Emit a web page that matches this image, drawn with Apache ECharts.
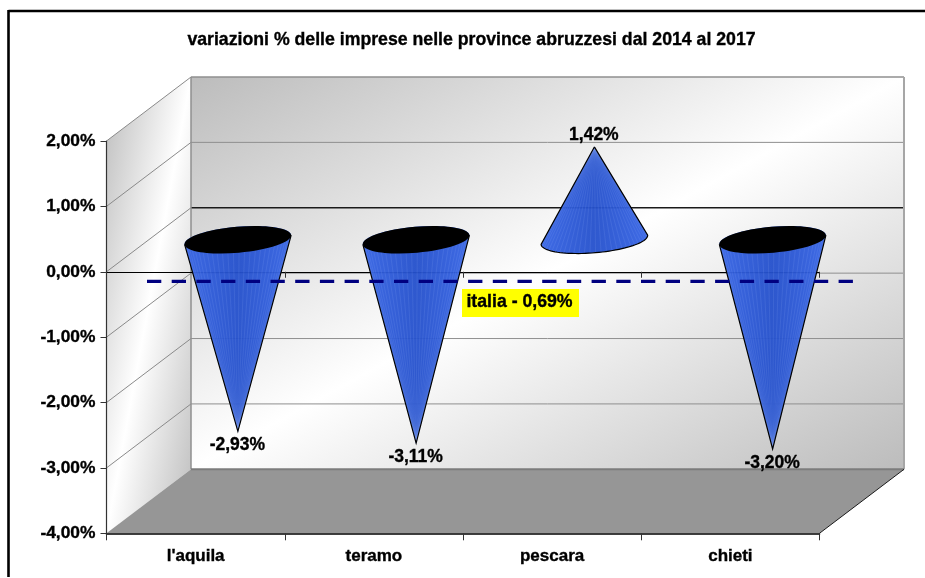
<!DOCTYPE html>
<html>
<head>
<meta charset="utf-8">
<title>variazioni % delle imprese</title>
<script src="https://cdn.jsdelivr.net/npm/echarts@6/dist/echarts.min.js"></script>
<style>
  html, body { margin: 0; padding: 0; background: #fff; }
  #chart { width: 925px; height: 578px; }
</style>
</head>
<body>
<div id="chart"></div>
<script>
var chartTitle = "variazioni % delle imprese nelle province abruzzesi dal 2014 al 2017";
var provinces = ["l'aquila", 'teramo', 'pescara', 'chieti'];
var changes = [-2.93, -3.11, 1.42, -3.20];
var changeLabels = ['-2,93%', '-3,11%', '1,42%', '-3,20%'];
var tickValues = [2, 1, 0, -1, -2, -3, -4];
var italyValue = -0.69;
var italyLabel = 'italia - 0,69%';

var FONT = '"Liberation Sans", Arial, sans-serif';
var DEPTH_X = 84.5, DEPTH_Y = -64;    // oblique shift from the front plane to the back wall
var CONE_RX = 53.5, CONE_RY = 13, CONE_TILT = 5 * Math.PI / 180;
var TEXT_EDGE = 0.35;                 // thin stroke, the reference text is a little heavier than plain bold

var chart = echarts.init(document.getElementById('chart'));

function pct(v) { return v.toFixed(2).replace('.', ',') + '%'; }

// gradient whose mid stop runs through the two off-diagonal corners of a box
function cornerGradient(x, y, w, h, stops) {
    var k = 2 * w * h / (w * w + h * h);
    return new echarts.graphic.LinearGradient(x, y, x + h * k, y + w * k, stops, true);
}

function poly(points, style) {
    return { type: 'polygon', shape: { points: points }, style: style };
}
function seg(x1, y1, x2, y2, stroke, width) {
    return { type: 'line', shape: { x1: x1, y1: y1, x2: x2, y2: y2 }, style: { stroke: stroke, lineWidth: width, fill: null } };
}

function renderWalls(params, api) {
    var g = params.coordSys;
    var l = g.x, r = g.x + g.width, t = g.y, b = g.y + g.height;
    var wallStops = [{ offset: 0, color: '#bcbcbc' }, { offset: 0.5, color: '#ffffff' }, { offset: 1, color: '#bcbcbc' }];
    var kids = [];
    kids.push(poly([[l + DEPTH_X, t + DEPTH_Y], [r + DEPTH_X, t + DEPTH_Y], [r + DEPTH_X, b + DEPTH_Y], [l + DEPTH_X, b + DEPTH_Y]],
        { fill: cornerGradient(l + DEPTH_X, t + DEPTH_Y, g.width, g.height, wallStops) }));
    kids.push(poly([[l, t], [l + DEPTH_X, t + DEPTH_Y], [l + DEPTH_X, b + DEPTH_Y], [l, b]],
        { fill: cornerGradient(l, t + DEPTH_Y, DEPTH_X, g.height - DEPTH_Y, wallStops) }));
    tickValues.forEach(function (v) {
        var y = api.coord([0, v])[1];
        if (v !== -4) kids.push(seg(l, y, l + DEPTH_X, y + DEPTH_Y, '#8a8a8a', 1));
        if (v !== 2 && v !== -4) {
            kids.push(seg(l + DEPTH_X, y + DEPTH_Y, r + DEPTH_X, y + DEPTH_Y, v === 0 ? '#1a1a1a' : '#8f8f8f', v === 0 ? 1.3 : 1));
        }
    });
    kids.push(poly([[l, b], [r, b], [r + DEPTH_X, b + DEPTH_Y], [l + DEPTH_X, b + DEPTH_Y]], { fill: '#969696' }));
    kids.push(seg(l + DEPTH_X, t + DEPTH_Y, r + DEPTH_X, t + DEPTH_Y, '#8f8f8f', 1.5));
    kids.push(seg(l + DEPTH_X, t + DEPTH_Y, l + DEPTH_X, b + DEPTH_Y, '#8f8f8f', 1.5));
    kids.push(seg(r + DEPTH_X, t + DEPTH_Y, r + DEPTH_X, b + DEPTH_Y, '#a6a6a6', 2));
    kids.push(seg(l + DEPTH_X, b + DEPTH_Y, r + DEPTH_X, b + DEPTH_Y, '#7c7c7c', 2));
    kids.push(seg(r, b, r + DEPTH_X, b + DEPTH_Y, '#1a1a1a', 1));
    return { type: 'group', children: kids, silent: true };
}

function ellipsePoint(cx, cy, t) {
    var ex = CONE_RX * Math.cos(t), ey = CONE_RY * Math.sin(t);
    return [cx + ex * Math.cos(CONE_TILT) + ey * Math.sin(CONE_TILT),
            cy - ex * Math.sin(CONE_TILT) + ey * Math.cos(CONE_TILT)];
}

function renderCone(params, api) {
    var idx = api.value(0), val = api.value(1);
    var base = api.coord([idx, 0]), tip = api.coord([idx, val]);
    var cx = base[0] + DEPTH_X / 2, cy = base[1] + DEPTH_Y / 2;
    var ax = tip[0] + DEPTH_X / 2, ay = tip[1] + DEPTH_Y / 2;
    var up = val > 0;
    var right = ellipsePoint(cx, cy, 0), left = ellipsePoint(cx, cy, Math.PI);
    var pts = [[ax, ay]], kids = [], i;

    // near edge of the base for an upright cone, far edge (hidden by the cap) when inverted
    for (i = 0; i <= 48; i++) {
        pts.push(ellipsePoint(cx, cy, (up ? 1 : -1) * Math.PI * i / 48));
    }
    kids.push(poly(pts, {
        fill: new echarts.graphic.LinearGradient(0, 0, 1, 0, [
            { offset: 0, color: '#3563e4' }, { offset: 0.5, color: '#2450cc' }, { offset: 1, color: '#3563e4' }
        ]),
        opacity: 0.95
    }));
    for (i = 1; i < 30; i++) {
        var p = ellipsePoint(cx, cy, Math.PI * i / 30);
        kids.push(seg(ax, ay, p[0], p[1], 'rgba(170,195,255,0.2)', 0.6));
    }
    kids.push({ type: 'polyline', shape: { points: up ? pts.concat([[ax, ay]]) : [left, [ax, ay], right] },
        style: { stroke: '#000', lineWidth: 1.2, fill: null } });
    if (!up) {
        kids.push({ type: 'ellipse', rotation: CONE_TILT, originX: cx, originY: cy,
            shape: { cx: cx, cy: cy, rx: CONE_RX, ry: CONE_RY }, style: { fill: '#000' } });
    }
    kids.push({ type: 'text', style: {
        x: ax - 0.5, y: ay + (up ? -12 : 14), text: changeLabels[idx], align: 'center', verticalAlign: 'middle',
        fill: '#000', stroke: '#000', lineWidth: TEXT_EDGE, font: 'bold 17.5px ' + FONT
    } });
    return { type: 'group', children: kids, silent: true };
}

function renderItaly(params, api) {
    var g = params.coordSys;
    var y = api.coord([0, api.value(0)])[1] - 35.5;
    var x0 = g.x + 40.5, x1 = g.x + g.width + 35.5;
    var line = seg(x0, y, x1, y, '#000080', 3.3);
    line.style.lineDash = [14.3, 10.4];
    return { type: 'group', silent: true, children: [
        line,
        { type: 'rect', shape: { x: 462, y: y + 7.5, width: 117, height: 28 }, style: { fill: '#ffff00' } },
        { type: 'text', style: { x: 519.5, y: y + 21, text: italyLabel, align: 'center', verticalAlign: 'middle',
            fill: '#000', stroke: '#000', lineWidth: TEXT_EDGE, font: 'bold 17.7px ' + FONT } }
    ] };
}

chart.setOption({
    animation: false,
    backgroundColor: '#fff',
    title: {
        text: chartTitle, left: 466.5, top: 26, textAlign: 'center',
        textStyle: { fontFamily: FONT, fontWeight: 'bold', fontSize: 17.7, color: '#000',
            textBorderColor: '#000', textBorderWidth: TEXT_EDGE }
    },
    graphic: [
        { type: 'line', shape: { x1: 8.5, y1: 11, x2: 925, y2: 11 }, style: { stroke: '#000', lineWidth: 2.6 } },
        { type: 'line', shape: { x1: 8.5, y1: 10, x2: 8.5, y2: 577 }, style: { stroke: '#000', lineWidth: 2.6 } }
    ],
    grid: { left: 106.5, right: 105.5, top: 141, bottom: 44.7 },
    xAxis: [
        {
            type: 'category', data: provinces, position: 'bottom', z: 3,
            axisLine: { onZero: false, lineStyle: { color: '#000', width: 1.6 } },
            axisTick: { show: true, length: 7, lineStyle: { color: '#333' } },
            axisLabel: { color: '#000', fontFamily: FONT, fontWeight: 'bold', fontSize: 17, margin: 15,
                textBorderColor: '#000', textBorderWidth: TEXT_EDGE }
        },
        {
            type: 'category', data: provinces, position: 'top', z: 3,
            axisLine: { onZero: true, lineStyle: { color: '#000', width: 1.2 } },
            axisTick: { show: true, inside: true, length: 6, lineStyle: { color: '#333' } },
            axisLabel: { show: false }
        }
    ],
    yAxis: {
        type: 'value', min: -4, max: 2, interval: 1, z: 3,
        axisLine: { show: true, lineStyle: { color: '#333', width: 1.2 } },
        axisTick: { show: true, length: 6, lineStyle: { color: '#333' } },
        axisLabel: { color: '#000', fontFamily: FONT, fontWeight: 'bold', fontSize: 17.4, margin: 11, padding: [2, 0, 0, 0], formatter: pct,
            textBorderColor: '#000', textBorderWidth: TEXT_EDGE },
        splitLine: { show: false }
    },
    series: [
        { type: 'custom', name: 'walls', z: 1, data: [0], renderItem: renderWalls, silent: true },
        { type: 'custom', name: 'province', z: 4, renderItem: renderCone, silent: true,
          data: changes.map(function (v, i) { return [i, v]; }), encode: { x: 0, y: 1 } },
        { type: 'custom', name: 'italia', z: 5, data: [[italyValue]], renderItem: renderItaly, silent: true,
          encode: { y: 0 } }
    ]
});
</script>
</body>
</html>
